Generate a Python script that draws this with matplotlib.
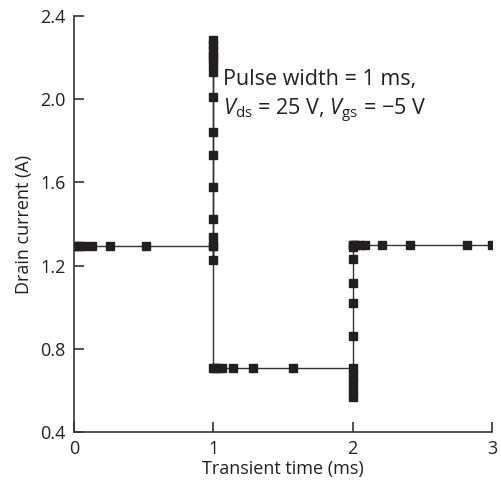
import matplotlib.pyplot as plt

plt.rcParams['font.family'] = ['Open Sans', 'DejaVu Sans']
plt.rcParams['mathtext.fontset'] = 'custom'
plt.rcParams['mathtext.rm'] = 'Open Sans'
plt.rcParams['mathtext.it'] = 'Open Sans:italic'

# before the pulse (t = 0 .. 1 ms)
t1 = [0.0, 0.02, 0.04, 0.07, 0.13, 0.26, 0.52, 1.0]
i1 = [1.295, 1.295, 1.295, 1.295, 1.295, 1.295, 1.295, 1.295]

# rising edge at t = 1 ms
t2 = [1.0] * 15
i2 = [1.227, 1.295, 1.338, 1.424, 1.578, 1.73, 1.84, 2.01, 2.13, 2.164,
      2.20, 2.21, 2.236, 2.26, 2.285]

# during the pulse (t = 1 .. 2 ms)
t3 = [1.0, 1.01, 1.03, 1.065, 1.14, 1.285, 1.572, 2.0]
i3 = [0.706, 0.706, 0.706, 0.706, 0.706, 0.706, 0.706, 0.706]

# recovery at t = 2 ms
t4 = [2.0] * 10
i4 = [0.674, 0.64, 0.60, 0.568, 0.862, 1.022, 1.118, 1.232, 1.29, 1.299]

# after the pulse (t = 2 .. 3 ms)
t5 = [2.0, 2.02, 2.05, 2.09, 2.21, 2.41, 2.82, 3.0]
i5 = [1.299, 1.299, 1.299, 1.299, 1.299, 1.299, 1.299, 1.299]

t = t1 + t2 + t3 + t4 + t5
i = i1 + i2 + i3 + i4 + i5

fig = plt.figure(figsize=(5.02, 4.84), dpi=100)
ax = fig.add_axes([0.1474, 0.1074, 0.8327, 0.8595])

ax.plot(t, i, color="#333333", linewidth=1.0, marker="s", markersize=5.5,
        markerfacecolor="#231f20", markeredgecolor="#231f20")

ax.set_xlim(0, 3)
ax.set_ylim(0.4, 2.4)
ax.set_xticks([0, 1, 2, 3])
ax.set_yticks([0.4, 0.8, 1.2, 1.6, 2.0, 2.4])
ax.set_yticklabels(["0.4", "0.8", "1.2", "1.6", "2.0", "2.4"])

ax.spines["top"].set_visible(False)
ax.spines["right"].set_visible(False)
for s in ["left", "bottom"]:
    ax.spines[s].set_color("#333333")
    ax.spines[s].set_linewidth(1.2)
ax.tick_params(direction="in", length=7, width=1.2, color="#333333",
               labelsize=13, labelcolor="#231f20", pad=6)

ax.set_xlabel("Transient time (ms)", fontsize=13, color="#231f20", labelpad=1)
ax.set_ylabel("Drain current (A)", fontsize=13, color="#231f20", labelpad=5)

ax.text(1.07, 2.07, "Pulse width = 1 ms,", fontsize=15.5, color="#231f20")
ax.text(1.07, 1.92, "$V$$_{\\mathrm{ds}}$ = 25 V, $V$$_{\\mathrm{gs}}$ = \u22125 V",
        fontsize=15.5, color="#231f20")

fig.savefig("out.png", dpi=100)
